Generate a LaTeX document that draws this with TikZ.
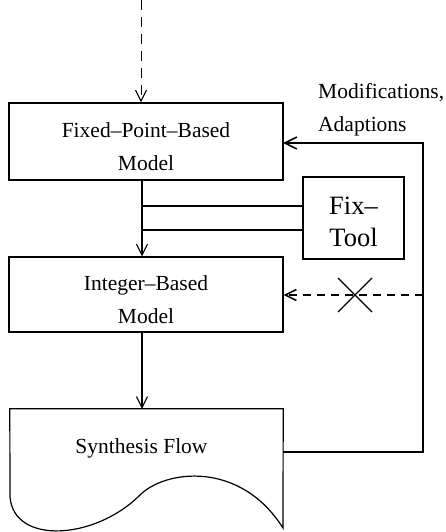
\documentclass[tikz,border=0pt]{standalone}
\usepackage{fontspec}
\setmainfont{Liberation Serif}
\usetikzlibrary{arrows.meta,calc}
\begin{document}
\begin{tikzpicture}[x=1pt,y=-1pt,
  box/.style={draw, line width=1.2pt, inner sep=0pt, align=center,
    font=\fontsize{21.5}{33}\selectfont},
  conn/.style={line width=1.1pt, -{Straight Barb[length=11pt,width=11pt,line width=1.1pt]}},
  dashconn/.style={conn, dash pattern=on 10pt off 7pt},
  plain/.style={line width=1.1pt},
  fb/.style={line width=2.4pt}]
\useasboundingbox (0,0) rectangle (445,532);

% boxes
\node[box, minimum width=274pt, minimum height=77pt] (fp) at (146,141.5)
  {\rule[-2.5pt]{0pt}{30.5pt}Fixed--Point--Based\\\rule[-2.5pt]{0pt}{30.5pt}Model};
\node[box, minimum width=274pt, minimum height=75pt] (int) at (146,294.5)
  {\rule[-2.5pt]{0pt}{30.5pt}Integer--Based\\\rule[-2.5pt]{0pt}{30.5pt}Model};
\node[box, minimum width=101pt, minimum height=82pt,
  font=\fontsize{26.5}{32}\selectfont] (fix) at (353.5,218)
  {\rule[-2.5pt]{0pt}{29.5pt}Fix--\\\rule[-2.5pt]{0pt}{29.5pt}Tool};

% synthesis flow document shape
\node[inner sep=0pt, minimum width=273pt, minimum height=119pt] (sf) at (146.5,468.5) {};
\draw[line width=1.2pt] (sf.north west) -- (sf.north east) -- (283,528)
  .. controls (240,460) and (165,470) .. (140,495)
  .. controls (95,540) and (14,545) .. (10,497) -- cycle;
\node[anchor=base, inner sep=0pt, font=\fontsize{21.5}{33}\selectfont] (sft) at (141.5,453) {Synthesis Flow};

% label
\node[anchor=north west, inner sep=0pt, align=left, font=\fontsize{21.5}{33}\selectfont] (mod) at (318,83)
  {\rule[-5pt]{0pt}{17pt}Modifications,\\\rule[-5pt]{0pt}{28pt}Adaptions};

% coordinates
\coordinate (ax) at (142,0);
\coordinate (top) at (141,0);
\coordinate (fbx) at (423,0);
\coordinate (fbs) at (283,452);
\coordinate (fbin) at (283,143);
\coordinate (dsrc) at (423,295);
\coordinate (xc) at (355,295);

% connectors
\draw[dashconn, line width=1pt] (top) -- (fp.north -| top);
\draw[conn] (fp.south -| ax) -- (int.north -| ax);
\draw[plain] (ax |- 0,206) -- (fix.west |- 0,206);
\draw[plain] (ax |- 0,230) -- (fix.west |- 0,230);
\draw[conn] (int.south -| ax) -- (sf.north -| ax);
\draw[fb, -{Straight Barb[length=12pt,width=12pt,line width=1.6pt]}]
  (fbs) -- (fbx |- fbs) -- (fbx |- fbin) -- (fbin);
\draw[line width=1.8pt, dash pattern=on 8pt off 6pt,
  -{Straight Barb[length=11pt,width=11pt,line width=1.6pt]}] (dsrc) -- (int.east |- dsrc);
\draw[line width=1.1pt] ($(xc)+(-17,-17)$) -- ($(xc)+(17,17)$);
\draw[line width=1.1pt] ($(xc)+(-17,17)$) -- ($(xc)+(17,-17)$);
\end{tikzpicture}
\end{document}
